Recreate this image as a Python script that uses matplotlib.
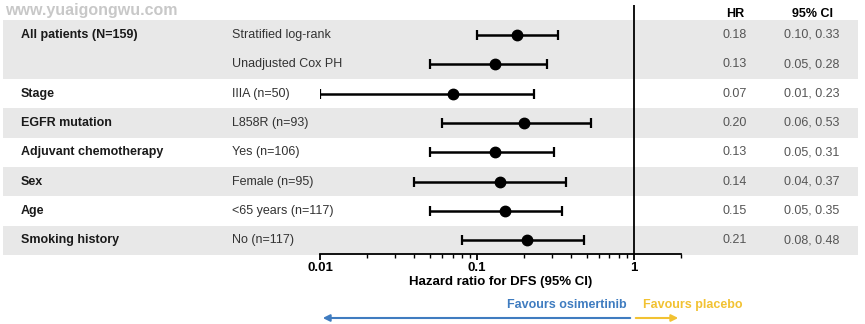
import numpy as np
import matplotlib
matplotlib.use("Agg")
import matplotlib.pyplot as plt
import matplotlib.transforms as mtransforms
from matplotlib.patches import Rectangle, FancyArrowPatch
from matplotlib.ticker import LogLocator, NullFormatter, FixedLocator, FixedFormatter

plt.rcParams["font.family"] = ["Liberation Sans", "DejaVu Sans"]

# data
groups = ["All patients (N=159)", "", "Stage", "EGFR mutation", "Adjuvant chemotherapy",
          "Sex", "Age", "Smoking history"]
subgroups = ["Stratified log-rank", "Unadjusted Cox PH", "IIIA (n=50)", "L858R (n=93)",
             "Yes (n=106)", "Female (n=95)", "<65 years (n=117)", "No (n=117)"]
hr = [0.18, 0.13, 0.07, 0.20, 0.13, 0.14, 0.15, 0.21]
ci_low = [0.10, 0.05, 0.01, 0.06, 0.05, 0.04, 0.05, 0.08]
ci_high = [0.33, 0.28, 0.23, 0.53, 0.31, 0.37, 0.35, 0.48]
shaded_rows = [[0, 1], [3], [5], [7]]

W, H = 865, 324
BAND = "#e8e8e8"
BLUE = "#3f7cc0"
GOLD = "#f2c232"
FS = 9


def fx(x):
    return x / W


def fy(y):
    return 1 - y / H


fig = plt.figure(figsize=(W / 100, H / 100), dpi=100)
ax = fig.add_axes([fx(320), fy(254), fx(681 - 320), (254 - 5) / H])
ax.patch.set_visible(False)

rows = np.arange(len(hr))
ax.set_xscale("log")
ax.set_xlim(0.01, 2)
ax.set_ylim(7.47, -1.02)

bt = mtransforms.blended_transform_factory(fig.transFigure, ax.transData)

# grey row bands
for band in shaded_rows:
    y0 = min(band) - 0.5
    ax.add_patch(Rectangle((fx(3), y0), fx(858 - 3), len(band), transform=bt,
                           facecolor=BAND, edgecolor="none", zorder=0, clip_on=False))

hr = np.array(hr)
xerr = [hr - np.array(ci_low), np.array(ci_high) - hr]
ax.errorbar(hr, rows, xerr=xerr, fmt="o", color="black", ms=7.5,
            elinewidth=1.8, capsize=3.5, capthick=1.6, zorder=3)
ax.axvline(1, color="black", lw=1.3, zorder=2)

for s in ["top", "right", "left"]:
    ax.spines[s].set_visible(False)
ax.spines["bottom"].set_linewidth(1.3)
ax.set_yticks([])
ax.xaxis.set_major_locator(FixedLocator([0.01, 0.1, 1]))
ax.xaxis.set_major_formatter(FixedFormatter(["0.01", "0.1", "1"]))
ax.xaxis.set_minor_locator(LogLocator(base=10, subs=np.arange(2, 10)))
ax.xaxis.set_minor_formatter(NullFormatter())
ax.tick_params(axis="x", which="major", length=4, width=1.3, labelsize=FS + 0.5, pad=2)
ax.tick_params(axis="x", which="minor", length=3, width=1.0)
for lab in ax.get_xticklabels():
    lab.set_fontweight("bold")
ax.set_xlabel("Hazard ratio for DFS (95% CI)", fontsize=FS + 0.5, fontweight="bold", labelpad=1)

# table text
for i in rows:
    ax.text(fx(21), i, groups[i], transform=bt, fontsize=FS, fontweight="bold",
            va="center", ha="left", color="#1a1a1a")
    ax.text(fx(232), i, subgroups[i], transform=bt, fontsize=FS,
            va="center", ha="left", color="#333333")
    ax.text(fx(735), i, f"{hr[i]:.2f}", transform=bt, fontsize=FS,
            va="center", ha="center", color="#555555")
    ax.text(fx(812), i, f"{ci_low[i]:.2f}, {ci_high[i]:.2f}", transform=bt, fontsize=FS,
            va="center", ha="center", color="#555555")

fig.text(fx(735), fy(14), "HR", fontsize=FS, fontweight="bold", ha="center", va="center")
fig.text(fx(812), fy(14), "95% CI", fontsize=FS, fontweight="bold", ha="center", va="center")
fig.text(fx(5), fy(10), "www.yuaigongwu.com", fontsize=11.5, fontweight="bold",
         ha="left", va="center", color="#c8c8c8")

# favours arrows
fig.text(fx(627), fy(305), "Favours osimertinib", fontsize=FS, fontweight="bold",
         color=BLUE, ha="right", va="center")
fig.text(fx(643), fy(305), "Favours placebo", fontsize=FS, fontweight="bold",
         color=GOLD, ha="left", va="center")
fig.add_artist(FancyArrowPatch(
    (fx(633), fy(318)), (fx(320), fy(318)), transform=fig.transFigure,
    arrowstyle="-|>,head_length=4,head_width=2", color=BLUE, lw=1.5, mutation_scale=1))
fig.add_artist(FancyArrowPatch(
    (fx(633), fy(318)), (fx(681), fy(318)), transform=fig.transFigure,
    arrowstyle="-|>,head_length=4,head_width=2", color=GOLD, lw=1.5, mutation_scale=1))

fig.savefig("out.png", dpi=100)
